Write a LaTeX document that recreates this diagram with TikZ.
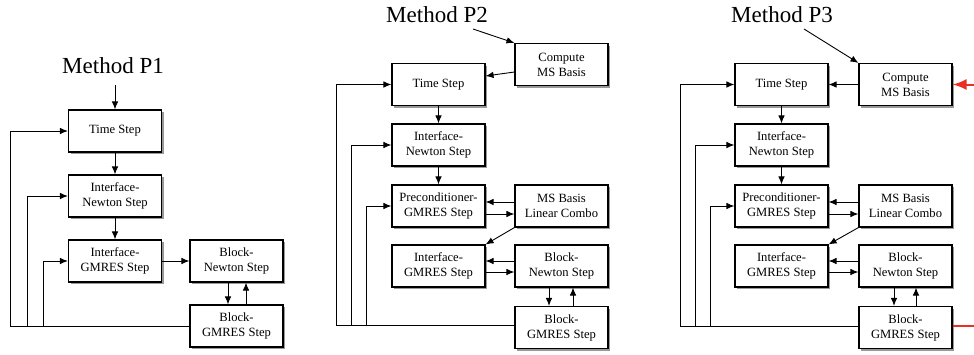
\documentclass[tikz,border=0pt]{standalone}
\usepackage{fontspec}
\setmainfont{Liberation Serif}
\usetikzlibrary{arrows.meta,shadows,calc}
\begin{document}
\begin{tikzpicture}[x=1pt,y=-1pt,
  box/.style={draw=black,line width=1.1pt,fill=white,minimum width=93pt,minimum height=42pt,
    inner sep=1pt,align=center,font=\fontsize{12.6}{15}\selectfont,
    drop shadow={shadow xshift=2pt,shadow yshift=-2pt,fill=black,opacity=0.4}},
  ttl/.style={font=\fontsize{23}{26}\selectfont},
  arr/.style={line width=0.9pt,-{Latex[length=8pt,width=6.5pt]}},
  redarr/.style={draw={rgb,255:red,232;green,48;blue,36},line width=2pt,-{Latex[length=14pt,width=11pt]}},
  redln/.style={draw={rgb,255:red,232;green,48;blue,36},line width=2pt}]
\useasboundingbox (0,0) rectangle (974,354);

% ---------- P1 ----------
\node[ttl] (t1) at (113,66) {Method P1};
\coordinate (s1) at (115,85);
\node[box] (ts1) at (115,131) {Time Step};
\node[box] (in1) at (115,196) {Interface-\\Newton Step};
\node[box] (ig1) at (115,261) {Interface-\\GMRES Step};
\node[box] (bn1) at (236.5,261) {Block-\\Newton Step};
\node[box] (bg1) at (236.5,326) {Block-\\GMRES Step};
\draw[arr] (s1) -- (ts1.north);
\draw[arr] (ts1) -- (in1);
\draw[arr] (in1) -- (ig1);
\draw[arr] (ig1) -- (bn1);
\draw[arr] ($(bn1.south)+(-8.5,0)$) -- ($(bg1.north)+(-8.5,0)$);
\draw[arr] ($(bg1.north)+(9.5,0)$) -- ($(bn1.south)+(9.5,0)$);
\draw[arr] (bg1.west) -- (10,326) |- (ts1.west);
\draw[arr] (27,326) |- (in1.west);
\draw[arr] (43,326) |- (ig1.west);

% ---------- P2 ----------
\node[ttl] (t2) at (437,15) {Method P2};
\coordinate (s2) at (473,29);
\node[box] (cm2) at (561.5,64.5) {Compute\\MS Basis};
\node[box] (ts2) at (438.5,84.5) {Time Step};
\node[box] (in2) at (438.5,145) {Interface-\\Newton Step};
\node[box] (pg2) at (438.5,206) {Preconditioner-\\GMRES Step};
\node[box] (ms2) at (561.5,206) {MS Basis\\Linear Combo};
\node[box] (ig2) at (438.5,266) {Interface-\\GMRES Step};
\node[box] (bn2) at (561.5,266) {Block-\\Newton Step};
\node[box] (bg2) at (561.5,327.5) {Block-\\GMRES Step};
\draw[arr] (s2) -- (cm2.north west);
\draw[arr] ($(cm2.west)+(0,7.5)$) -- ($(ts2.east)+(0,-8.5)$);
\draw[arr] (ts2) -- (in2);
\draw[arr] (in2) -- (pg2);
\draw[arr] ($(ms2.west)+(0,-4)$) -- ($(pg2.east)+(0,-4)$);
\draw[arr] ($(pg2.east)+(0,8)$) -- ($(ms2.west)+(0,8)$);
\draw[arr] (ms2.south west) -- (ig2.north east);
\draw[arr] ($(bn2.west)+(0,-5)$) -- ($(ig2.east)+(0,-5)$);
\draw[arr] ($(ig2.east)+(0,6)$) -- ($(bn2.west)+(0,6)$);
\draw[arr] ($(bn2.south)+(-12.5,0)$) -- ($(bg2.north)+(-12.5,0)$);
\draw[arr] ($(bg2.north)+(11.5,0)$) -- ($(bn2.south)+(11.5,0)$);
\draw[arr] ($(bg2.west)+(0,-2)$) -- (336,325.5) |- (ts2.west);
\draw[arr] (351,325.5) |- (in2.west);
\draw[arr] (366,325.5) |- (pg2.west);

% ---------- P3 ----------
\node[ttl] (t3) at (782,15) {Method P3};
\coordinate (s3) at (804,29);
\node[box] (cm3) at (905.5,84.5) {Compute\\MS Basis};
\node[box] (ts3) at (781.5,84.5) {Time Step};
\node[box] (in3) at (781.5,145) {Interface-\\Newton Step};
\node[box] (pg3) at (781.5,206) {Preconditioner-\\GMRES Step};
\node[box] (ms3) at (905.5,206) {MS Basis\\Linear Combo};
\node[box] (ig3) at (781.5,266) {Interface-\\GMRES Step};
\node[box] (bn3) at (905.5,266) {Block-\\Newton Step};
\node[box] (bg3) at (905.5,327.5) {Block-\\GMRES Step};
\coordinate (r1) at (974,84.5);
\coordinate (r2) at (974,326);
\draw[arr] (s3) -- (cm3.north west);
\draw[arr] (cm3) -- (ts3);
\draw[arr] (ts3) -- (in3);
\draw[arr] (in3) -- (pg3);
\draw[arr] ($(ms3.west)+(0,-4)$) -- ($(pg3.east)+(0,-4)$);
\draw[arr] ($(pg3.east)+(0,8)$) -- ($(ms3.west)+(0,8)$);
\draw[arr] (ms3.south west) -- (ig3.north east);
\draw[arr] ($(bn3.west)+(0,-5)$) -- ($(ig3.east)+(0,-5)$);
\draw[arr] ($(ig3.east)+(0,6)$) -- ($(bn3.west)+(0,6)$);
\draw[arr] ($(bn3.south)+(-11.5,0)$) -- ($(bg3.north)+(-11.5,0)$);
\draw[arr] ($(bg3.north)+(10.5,0)$) -- ($(bn3.south)+(10.5,0)$);
\draw[arr] ($(bg3.west)+(0,-1.5)$) -- (680,326) |- (ts3.west);
\draw[arr] (695,326) |- (in3.west);
\draw[arr] (710,326) |- (pg3.west);
\draw[redarr] (r1) -- (cm3.east);
\draw[redln] ($(bg3.east)+(0,-1.5)$) -- (r2);
\end{tikzpicture}
\end{document}
